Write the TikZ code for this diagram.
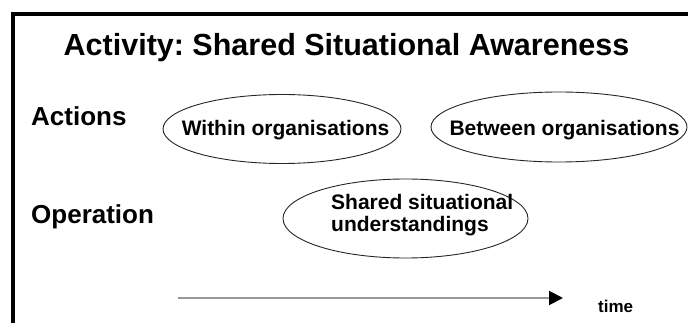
\documentclass[tikz,border=0pt]{standalone}
\usepackage{fontspec}
\setmainfont{Liberation Sans}
\usetikzlibrary{shapes.geometric,arrows.meta}
\frenchspacing
\begin{document}
\begin{tikzpicture}[x=1pt,y=-1pt,
  frameline/.style={line width=4pt,line cap=butt},
  bubble/.style={ellipse,draw=black!85,line width=0.9pt,inner sep=0pt},
  heading/.style={anchor=base west,inner sep=0pt,font=\fontsize{26}{30}\selectfont\bfseries},
  bubbletext/.style={inner sep=0pt,font=\fontsize{21}{22}\selectfont\bfseries},
  timeline/.style={draw=black!40,line width=2pt,-{Triangle[length=14pt,width=14pt,color=black]}}]
  \useasboundingbox (0,0) rectangle (688,323);
  \begin{scope}
    \clip (0,0) rectangle (688,323);
    % frame: top and left edges
    \coordinate (fr1) at (688,14);
    \coordinate (fr2) at (11,14);
    \coordinate (fr3) at (13,14);
    \coordinate (fr4) at (13,330);
    \draw[frameline] (fr1) -- (fr2);
    \draw[frameline] (fr3) -- (fr4);

    % title
    \node[anchor=base,inner sep=0pt,font=\fontsize{30.5}{36}\selectfont\bfseries] (title) at (346.5,56)
      {Activity: Shared Situational Awareness};

    % row labels
    \node[heading] (actions) at (31,126) {Actions};
    \node[heading] (operation) at (31,224) {Operation};

    % ellipses
    \node[bubble,minimum width=238pt,minimum height=69pt] (within) at (282,129) {};
    \node[bubble,minimum width=256pt,minimum height=70pt] (between) at (559,127) {};
    \node[bubble,minimum width=245pt,minimum height=79pt] (shared) at (405.5,218.5) {};

    \node[bubbletext,anchor=base] (withint) at (285.5,136) {Within organisations};
    \node[bubbletext,anchor=base] (betweent) at (564.5,136) {Between organisations};
    \node[bubbletext,anchor=base west,align=left] (sharedt) at (331,232)
      {Shared situational\\understandings};

    % time axis
    \coordinate (tstart) at (178,298);
    \coordinate (tend) at (563,298);
    \draw[timeline] (tstart) -- (tend);
    \node[anchor=base west,inner sep=0pt,font=\fontsize{17}{20}\selectfont\bfseries] (time) at (598,312) {time};
  \end{scope}
\end{tikzpicture}
\end{document}
